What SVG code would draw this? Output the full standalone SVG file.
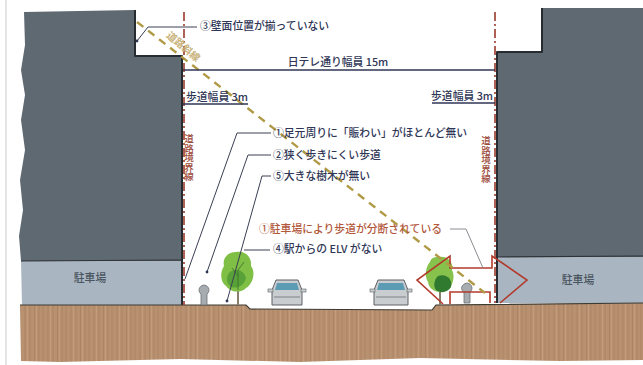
<svg xmlns="http://www.w3.org/2000/svg" width="643" height="365" viewBox="0 0 643 365">
  <defs>
    <style>
      .lbl { font-family: "Noto Sans CJK JP", "Noto Sans", sans-serif; font-size: 10.8px; font-weight: 500; fill: #2f3656; }
      .red { fill: #b2583c; }
      .vert { font-family: "Noto Sans CJK JP", sans-serif; font-size: 9.5px; font-weight: 500; fill: #9c4a3a; writing-mode: vertical-rl; }
      .lead { fill: none; stroke: #3a3f52; stroke-width: 1; }
      .bound { fill: none; stroke: #9a3b2c; stroke-width: 1.6; stroke-dasharray: 9 3 2 3; }
      .edge { fill: none; stroke: #272c30; stroke-width: 2; stroke-linejoin: round; }
      .bldg { fill: #5f6972; }
      .park { fill: #a9b6c2; }
      .car-body { fill: #c9cdd0; stroke: #5c6166; stroke-width: 1; }
      .glass { fill: #5b9bb3; }
      .post { fill: #a7acb0; stroke: #686d72; stroke-width: 0.8; }
    </style>
    <pattern id="soil" width="23" height="60" patternUnits="userSpaceOnUse">
      <rect width="23" height="60" fill="#b89170"/>
      <path d="M2 0V60M7 0V60M11.5 0V60M16 0V60M20 0V60" stroke="#9b7352" stroke-width="0.7" opacity="0.55"/>
      <path d="M4.5 0V60M13.5 0V60" stroke="#caa582" stroke-width="1" opacity="0.6"/>
    </pattern>
  </defs>

  <rect width="643" height="365" fill="#ffffff"/>
  <!-- sheet margin -->
  <line x1="6" y1="0" x2="6" y2="365" stroke="#c9cccd" stroke-width="1"/>

  <!-- left building and car park -->
  <g id="left-building">
    <path class="bldg" d="M24,12 L135,10 L135,56 L182,56 L182,261 L21,261 L19,236 L23,210 L20,180 L25,150 L21,120 L25,95 L21,70 L25,45 Z"/>
    <path class="park" d="M21,261 L182,261 L182,305 L22,305 Z"/>
    <line x1="21" y1="261" x2="182" y2="260" stroke="#2e3336" stroke-width="1.2"/>
    <polyline class="edge" points="135,10 135,56 182,56 182,305"/>
    <text class="lbl" x="90" y="282" text-anchor="middle" style="fill:#4b5560">駐車場</text>
  </g>

  <!-- right building and car park -->
  <g id="right-building">
    <path class="bldg" d="M542,8 L643,8 L643,257 L497,257 L497,52 L542,52 Z"/>
    <path class="park" d="M497,257 L643,257 L643,303 L497,303 Z"/>
    <line x1="497" y1="257" x2="643" y2="256" stroke="#2e3336" stroke-width="1.2"/>
    <polyline class="edge" points="542,8 542,52 497,52 497,303"/>
    <text class="lbl" x="578" y="284" text-anchor="middle" style="fill:#4b5560">駐車場</text>
  </g>

  <!-- ground -->
  <g id="ground">
    <path fill="url(#soil)" d="M20,305 L246,305 L250,309 L432,310 L436,305 L643,303 L643,360 L560,361 L420,358 L300,362 L180,359 L60,362 L21,361 Z"/>
    <path d="M20,305 L246,305 L250,309 L432,310 L436,305 L643,303" fill="none" stroke="#3b3a33" stroke-width="1.2"/>
  </g>

  <!-- road boundary lines -->
  <g id="boundaries">
    <line class="bound" x1="184" y1="12" x2="184" y2="305"/>
    <line class="bound" x1="495" y1="12" x2="495" y2="303"/>
    <text class="vert" x="189" y="134">道路境界線</text>
    <text class="vert" x="486" y="136">道路境界線</text>
  </g>

  <!-- street furniture -->
  <g id="tree-left">
    <line x1="238" y1="285" x2="238" y2="305" stroke="#8a7f6a" stroke-width="2"/>
    <path d="M236,252 C246,250 252,258 251,266 C256,272 253,284 246,288 C240,294 230,292 226,286 C220,282 220,272 224,266 C222,258 228,252 236,252 Z" fill="#7fbf45"/>
    <path d="M230,272 C236,268 244,270 246,278 C244,286 236,290 230,286 C226,282 226,276 230,272 Z" fill="#4f9a34" opacity="0.8"/>
    <path d="M238,290 L238,270 L244,262 M238,276 L232,268" stroke="#3c6e2a" stroke-width="0.8" fill="none"/>
  </g>
  <g id="tree-right">
    <line x1="440" y1="288" x2="440" y2="305" stroke="#8a7f6a" stroke-width="2"/>
    <path d="M438,257 C447,255 454,262 452,270 C456,278 452,288 445,291 C438,294 429,290 428,282 C424,276 426,266 430,262 C431,258 434,257 438,257 Z" fill="#86c24c"/>
    <path d="M438,276 C446,273 453,279 451,287 C448,292 441,294 436,290 C433,286 434,280 438,276 Z" fill="#2f7a2e"/>
  </g>
  <g id="bollard-left">
    <path class="post" d="M201,305 L201,294 C198,292 198,286 204,285 C210,286 210,292 207,294 L207,305 Z"/>
  </g>
  <g id="bollard-right">
    <path class="post" d="M464,303 L464,292 C460,290 461,284 467,283 C473,284 473,290 470,292 L470,303 Z"/>
  </g>
  <g id="car-left">
    <path class="car-body" d="M272,305 L272,290 L276,280 L298,280 L302,290 L302,305 Z"/>
    <path class="glass" d="M277,283 L297,283 L299,290 L275,290 Z"/>
    <rect x="268" y="289" width="5" height="3" fill="#c9cdd0" stroke="#5c6166" stroke-width="0.6"/>
    <rect x="301" y="289" width="5" height="3" fill="#c9cdd0" stroke="#5c6166" stroke-width="0.6"/>
    <line x1="274" y1="297" x2="300" y2="297" stroke="#6a6f74" stroke-width="0.8"/>
  </g>
  <g id="car-right">
    <path class="car-body" d="M374,305 L374,290 L378,280 L404,280 L408,290 L408,305 Z"/>
    <path class="glass" d="M379,283 L403,283 L405,290 L377,290 Z"/>
    <rect x="370" y="289" width="5" height="3" fill="#c9cdd0" stroke="#5c6166" stroke-width="0.6"/>
    <rect x="407" y="289" width="5" height="3" fill="#c9cdd0" stroke="#5c6166" stroke-width="0.6"/>
    <line x1="376" y1="297" x2="406" y2="297" stroke="#6a6f74" stroke-width="0.8"/>
  </g>

  <!-- divided footway arrow -->
  <g id="split-arrow" fill="none" stroke="#b23a2a" stroke-width="1.6" stroke-linejoin="miter">
    <path d="M443,304 L417,280 L450,256 L450,268 L492,268 L492,256 L527,280 L500,303"/>
    <path d="M450,304 L450,292 L490,292 L490,303"/>
  </g>

  <!-- setback (sky exposure) line -->
  <g id="setback-line">
    <line x1="137" y1="22" x2="485" y2="293" stroke="#b09a45" stroke-width="2.4" stroke-dasharray="8 6"/>
    <text x="183" y="50" transform="rotate(40 183 47)" text-anchor="middle" style="font-family:'Noto Sans CJK JP',sans-serif;font-size:10px;font-weight:bold;fill:#c9b37c">道路斜線</text>
  </g>

  <!-- dimensions -->
  <g id="dimensions">
    <line x1="183" y1="70" x2="495" y2="70" stroke="#2f3656" stroke-width="1.3"/>
    <text class="lbl" x="338" y="66" text-anchor="middle">日テレ通り幅員 15m</text>
    <line x1="183" y1="104" x2="248" y2="104" stroke="#2f3656" stroke-width="1.3"/>
    <text class="lbl" x="186" y="101">歩道幅員 3m</text>
    <line x1="432" y1="103" x2="495" y2="103" stroke="#2f3656" stroke-width="1.3"/>
    <text class="lbl" x="493" y="100" text-anchor="end">歩道幅員 3m</text>
  </g>

  <!-- annotation leaders -->
  <g id="connectors" class="lead">
    <polyline points="197,27 148,27 137,41"/>
    <polyline points="271,133 237,133 185,279"/>
    <polyline points="271,155 248,155 207,272"/>
    <polyline points="271,176 262,176 227,301"/>
    <polyline points="270,250 244,250"/>
    <polyline points="450,229 466,229 483,268" stroke="#8a8c92"/>
  </g>
  <circle cx="137" cy="41" r="1.4" fill="#2f3656"/>
  <circle cx="207" cy="272" r="1.4" fill="#2f3656"/>
  <circle cx="227" cy="301" r="1.4" fill="#2f3656"/>

  <!-- annotations -->
  <g id="notes">
    <text class="lbl" x="200" y="30">③壁面位置が揃っていない</text>
    <text class="lbl" x="273" y="137">①足元周りに「賑わい」がほとんど無い</text>
    <text class="lbl" x="273" y="159">②狭く歩きにくい歩道</text>
    <text class="lbl" x="273" y="180">⑤大きな樹木が無い</text>
    <text class="lbl red" x="259" y="233">①駐車場により歩道が分断されている</text>
    <text class="lbl" x="273" y="253">④駅からの ELV がない</text>
  </g>
</svg>
